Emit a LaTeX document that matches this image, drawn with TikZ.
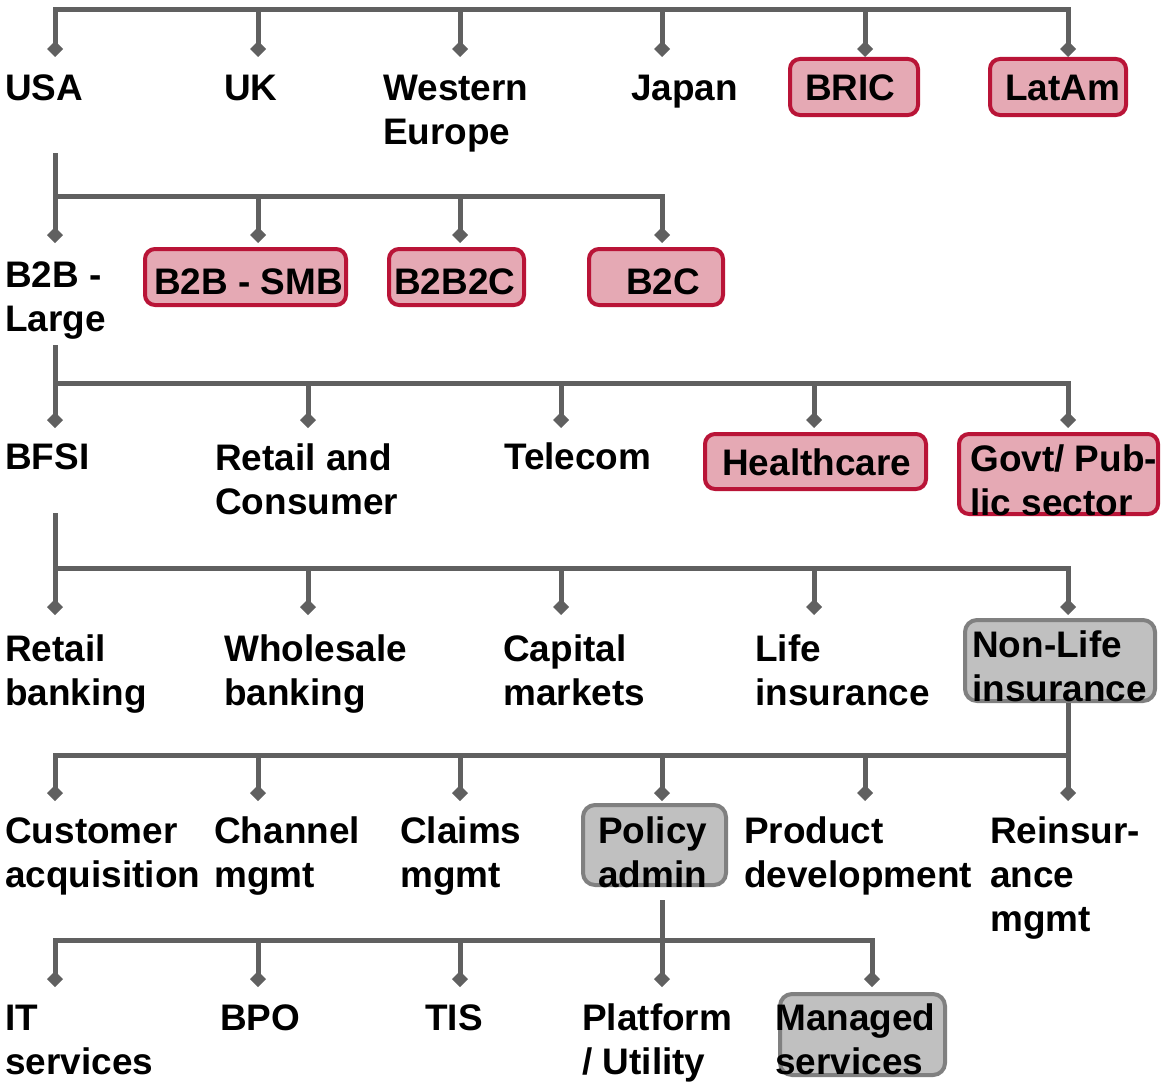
\documentclass[tikz,border=0pt]{standalone}
\usepackage{fontspec}
\setmainfont{Liberation Sans}
\usetikzlibrary{arrows.meta,fit}

\definecolor{linegray}{RGB}{96,96,96}
\definecolor{pinkfill}{RGB}{229,169,180}
\definecolor{pinkline}{RGB}{185,20,55}
\definecolor{grayfill}{RGB}{192,192,192}
\definecolor{grayline}{RGB}{128,128,128}

% invisible strut fixing the height of the first text line
\newcommand\firstline{\rule{0pt}{22pt}}

\begin{document}
\begin{tikzpicture}[x=0.75pt,y=-0.75pt,
  lbl/.style={font=\fontsize{27.7pt}{33pt}\selectfont\bfseries, inner sep=0pt,
    anchor=north west, align=left, yshift=22pt, execute at begin node=\firstline},
  pinkbox/.style={draw=pinkline, fill=pinkfill, line width=3pt, rounded corners=7.5pt, inner sep=0pt},
  graybox/.style={draw=grayline, fill=grayfill, line width=3pt, rounded corners=9pt, inner sep=0pt},
  link/.style={draw=linegray, line width=3.75pt, -{Diamond[length=12pt,width=12pt]}},
  linkboth/.style={draw=linegray, line width=3.75pt,
    {Diamond[length=12pt,width=12pt]}-{Diamond[length=12pt,width=12pt]}}]

\useasboundingbox (0,0) rectangle (1163,1088);

% ---------- entry points of the connectors ----------
\coordinate (in-usa) at (55,57);    \coordinate (in-uk) at (258,57);
\coordinate (in-weu) at (460,57);   \coordinate (in-jap) at (662,57);
\coordinate (in-bric) at (865,57);  \coordinate (in-latam) at (1068,57);
\coordinate (bus1) at (460,10);

\coordinate (out-usa) at (55,153);
\coordinate (in-b2bl) at (55,243);  \coordinate (in-smb) at (258,243);
\coordinate (in-b2b2c) at (460,243);\coordinate (in-b2c) at (662,243);
\coordinate (bus2) at (300,196);

\coordinate (out-b2bl) at (55,345);
\coordinate (in-bfsi) at (55,428);  \coordinate (in-retcon) at (308,428);
\coordinate (in-tel) at (561,428);  \coordinate (in-health) at (814,428);
\coordinate (in-govt) at (1068,428);
\coordinate (bus3) at (500,383);

\coordinate (out-bfsi) at (55,513);
\coordinate (in-rbank) at (55,615); \coordinate (in-wbank) at (308,615);
\coordinate (in-cap) at (561,615);  \coordinate (in-life) at (814,615);
\coordinate (in-nonlife) at (1068,615);
\coordinate (bus4) at (500,568);

\coordinate (in-cust) at (55,801);  \coordinate (in-chan) at (258,801);
\coordinate (in-claims) at (460,801);\coordinate (in-pol) at (662,801);
\coordinate (in-prod) at (865,801); \coordinate (in-reins) at (1068,801);
\coordinate (bus5) at (1068,755);

\coordinate (out-pol) at (662,900);
\coordinate (in-it) at (55,987);    \coordinate (in-bpo) at (258,987);
\coordinate (in-tis) at (460,987);  \coordinate (in-plat) at (662,987);
\coordinate (in-man) at (872,987);
\coordinate (bus6) at (460,940);

% ---------- highlighted boxes ----------
\node[pinkbox, fit={(790,59) (918,115)}] (bric) {};
\node[pinkbox, fit={(990,59) (1126,115)}] (latam) {};
\node[pinkbox, fit={(145,249) (346,305)}] (smb) {};
\node[pinkbox, fit={(389,249) (524,305)}] (b2b2c) {};
\node[pinkbox, fit={(589,249) (723,305)}] (b2c) {};
\node[pinkbox, fit={(705,434) (926,489)}] (health) {};
\node[pinkbox, fit={(959,434) (1158,514)}] (govt) {};
\node[graybox, fit={(965,620) (1155,701)}] (nonlife) {};
\node[graybox, fit={(583,805) (726,885)}] (pol) {};
\node[graybox, fit={(780,994) (945,1075)}] (man) {};

% ---------- connectors ----------
% regions
\draw[linkboth] (in-usa) |- (bus1) -| (in-latam);
\foreach \c in {uk,weu,jap,bric} \draw[link] (bus1 -| in-\c) -- (in-\c);
% segments below USA
\draw[link] (out-usa) -- (in-b2bl);
\draw[link] (out-usa |- bus2) -| (in-b2c);
\foreach \c in {smb,b2b2c} \draw[link] (bus2 -| in-\c) -- (in-\c);
% industries below B2B - Large
\draw[link] (out-b2bl) -- (in-bfsi);
\draw[link] (out-b2bl |- bus3) -| (in-govt);
\foreach \c in {retcon,tel,health} \draw[link] (bus3 -| in-\c) -- (in-\c);
% sub-verticals below BFSI
\draw[link] (out-bfsi) -- (in-rbank);
\draw[link] (out-bfsi |- bus4) -| (in-nonlife);
\foreach \c in {wbank,cap,life} \draw[link] (bus4 -| in-\c) -- (in-\c);
% processes below Non-Life insurance
\draw[link] (nonlife.south -| in-reins) -- (in-reins);
\draw[link] (bus5) -| (in-cust);
\foreach \c in {chan,claims,pol,prod} \draw[link] (bus5 -| in-\c) -- (in-\c);
% service lines below Policy admin
\draw[link] (out-pol) -- (in-plat);
\draw[linkboth] (in-it) |- (bus6) -| (in-man);
\foreach \c in {bpo,tis} \draw[link] (bus6 -| in-\c) -- (in-\c);

% ---------- labels ----------
\node[lbl] (usa) at (5,100) {USA};
\node[lbl] (uk) at (224,100) {UK};
\node[lbl] (weu) at (383,100) {\firstline Western\\Europe};
\node[lbl] (jap) at (631,100) {Japan};
\node[lbl] (bric-t) at (805,100) {BRIC};
\node[lbl] (latam-t) at (1005,100) {LatAm};

\node[lbl] (b2bl) at (5,287) {\firstline B2B -\\Large};
\node[lbl] (smb-t) at (154,294) {B2B - SMB};
\node[lbl] (b2b2c-t) at (394,294) {B2B2C};
\node[lbl] (b2c-t) at (626,294) {B2C};

\node[lbl] (bfsi) at (5,469) {BFSI};
\node[lbl] (retcon) at (215,470) {\firstline Retail and\\Consumer};
\node[lbl] (tel) at (504,469) {Telecom};
\node[lbl] (health-t) at (722,475) {Healthcare};
\node[lbl] (govt-t) at (970,471) {\firstline Govt/ Pub-\\lic sector};

\node[lbl] (rbank) at (5,661) {\firstline Retail\\banking};
\node[lbl] (wbank) at (224,661) {\firstline Wholesale\\banking};
\node[lbl] (cap) at (503,661) {\firstline Capital\\markets};
\node[lbl] (life) at (755,661) {\firstline Life\\insurance};
\node[lbl] (nonlife-t) at (972,657) {\firstline Non-Life\\insurance};

\node[lbl] (cust) at (5,843) {\firstline Customer\\acquisition};
\node[lbl] (chan) at (214,843) {\firstline Channel\\mgmt};
\node[lbl] (claims) at (400,843) {\firstline Claims\\mgmt};
\node[lbl] (pol-t) at (598,843) {\firstline Policy\\admin};
\node[lbl] (prod) at (744,843) {\firstline Product\\development};
\node[lbl] (reins) at (990,843) {\firstline Reinsur-\\ance\\mgmt};

\node[lbl] (it) at (5,1030) {\firstline IT\\services};
\node[lbl] (bpo) at (220,1030) {BPO};
\node[lbl] (tis) at (425,1030) {TIS};
\node[lbl] (plat) at (582,1030) {\firstline Platform\\/ Utility};
\node[lbl] (man-t) at (775,1030) {\firstline Managed\\services};
\end{tikzpicture}
\end{document}
